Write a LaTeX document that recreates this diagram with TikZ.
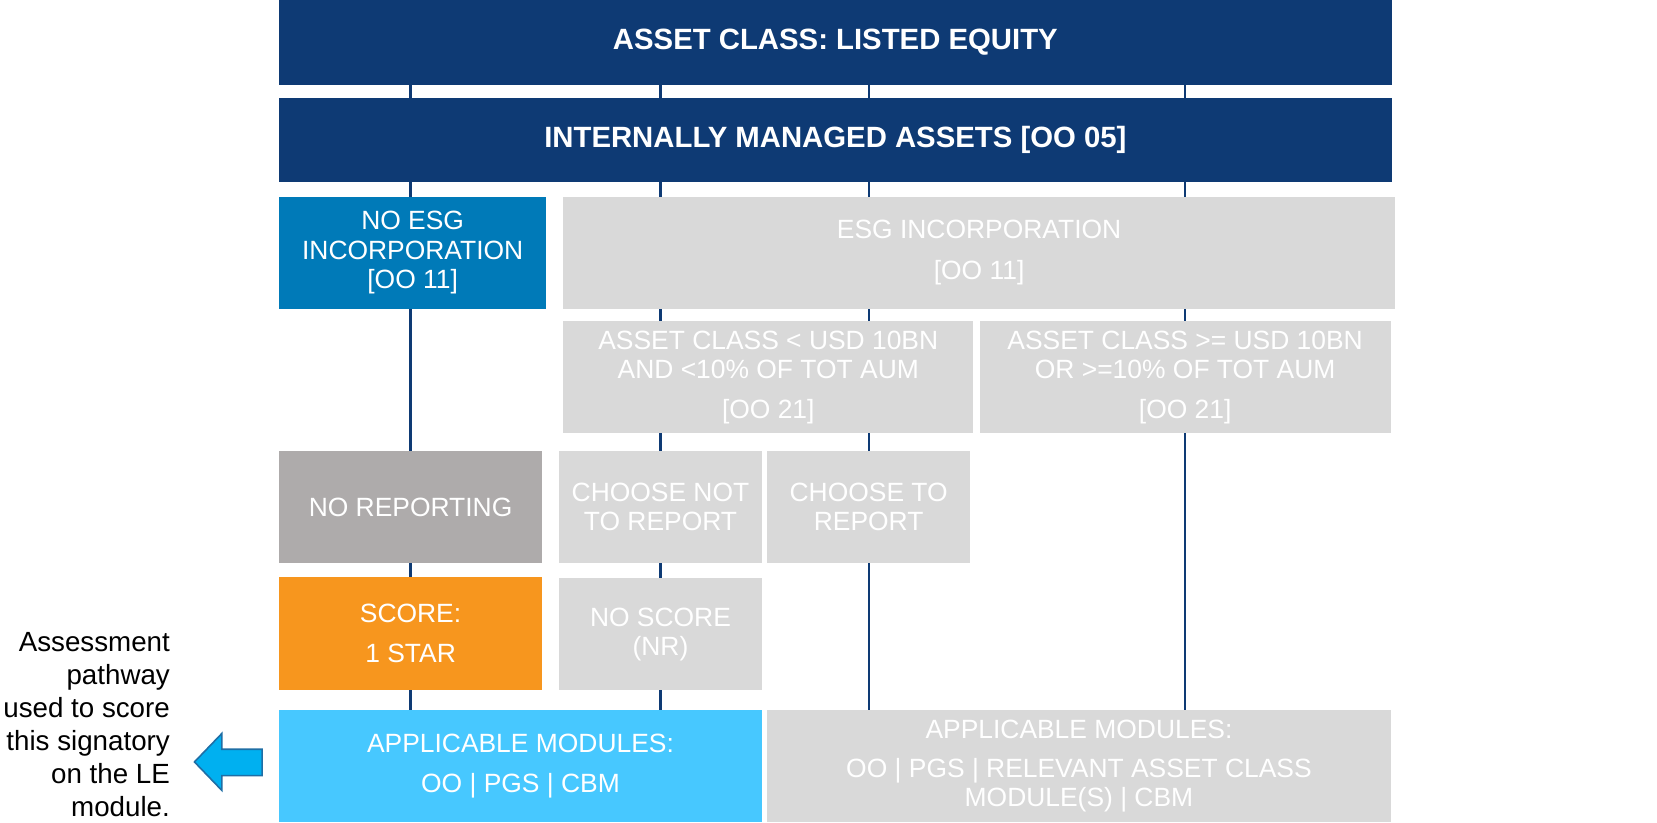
\documentclass[tikz,border=0pt]{standalone}
\usepackage{fontspec}
\setmainfont{Liberation Sans}
\usetikzlibrary{backgrounds}
\definecolor{priNavy}{RGB}{14,58,116}
\definecolor{priTeal}{RGB}{0,122,184}
\definecolor{priGrey}{RGB}{217,217,217}
\definecolor{priStone}{RGB}{174,171,171}
\definecolor{priOrange}{RGB}{247,150,30}
\definecolor{priSky}{RGB}{71,200,255}
\definecolor{priArrow}{RGB}{0,176,240}
\definecolor{priArrowEdge}{RGB}{31,110,165}

\begin{document}
\begin{tikzpicture}[x=0.8pt, y=-0.8pt,
		Box/.style={anchor=north west, inner sep=0pt, outer sep=0pt, text=white, align=center, font=\fontsize{20}{22}\selectfont},
		Size/.style 2 args={minimum width=#1*0.8pt, minimum height=#2*0.8pt},
		Title/.style={Box, fill=priNavy, font=\bfseries\fontsize{22.2}{26}\selectfont},
		Grey/.style={Box, fill=priGrey},
		Link/.style={draw=priNavy, line width=1.6pt},
		Note/.style={anchor=east, align=right, inner sep=0pt, font=\fontsize{21}{25}\selectfont}]
		\useasboundingbox (0,0) rectangle (1568,778);
		\node[Title, Size={1053}{80}] (top) at (264,0) {ASSET CLASS: LISTED EQUITY};
		\node[Title, Size={1053}{79}] (imas) at (264,93) {INTERNALLY MANAGED ASSETS [OO 05]};
		\node[Box, fill=priTeal, Size={253}{106}] (noesg) at (264,186) {NO ESG\\INCORPORATION\\{}[OO 11]};
		\node[Grey, Size={787}{106}] (esg) at (533,186) {ESG INCORPORATION\\[8.8pt]{}[OO 11]};
		\node[Grey, Size={388}{106}] (small) at (533,304) {ASSET CLASS < USD 10BN\\AND <10\% OF TOT AUM\\[8pt]{}[OO 21]};
		\node[Grey, Size={389}{106}] (big) at (927,304) {ASSET CLASS >= USD 10BN\\OR >=10\% OF TOT AUM\\[8pt]{}[OO 21]};
		\node[Box, fill=priStone, Size={249}{106}] (noreport) at (264,427) {NO REPORTING};
		\node[Grey, Size={192}{106}] (choosenot) at (529,427) {CHOOSE NOT\\TO REPORT};
		\node[Grey, Size={192}{106}] (chooseto) at (726,427) {CHOOSE TO\\REPORT};
		\node[Box, fill=priOrange, Size={249}{107}] (score) at (264,546) {SCORE:\\[8.8pt]1 STAR};
		\node[Grey, Size={192}{106}] (noscore) at (529,547) {NO SCORE\\(NR)};
		\node[Box, fill=priSky, Size={457}{106}] (modblue) at (264,672) {APPLICABLE MODULES:\\[8.8pt]OO | PGS | CBM};
		\node[Grey, Size={590}{106}] (modgrey) at (726,672) {APPLICABLE MODULES:\\[8pt]OO | PGS | RELEVANT ASSET CLASS\\MODULE(S) | CBM};
		% pathways behind the boxes
		\begin{scope}[on background layer]
			\draw[Link] (top.south -| noreport.center) -- (modblue.north -| noreport.center);
			\draw[Link] (top.south -| noscore.center) -- (modblue.north -| noscore.center);
			\draw[Link] (top.south -| chooseto.center) -- (modgrey.north -| chooseto.center);
			\draw[Link] (top.south -| big.center) -- (modgrey.north -| big.center);
		\end{scope}
		\node[Note] (note) at (161,686) {Assessment\\pathway\\used to score\\this signatory\\on the LE\\module.};
		\draw[fill=priArrow, draw=priArrowEdge, line width=1.2pt, line join=miter] (184,721) -- (210,694) -- (210,709) -- (248,709) -- (248,734) -- (210,734) -- (210,748) -- cycle;
	\end{tikzpicture}
\end{document}
